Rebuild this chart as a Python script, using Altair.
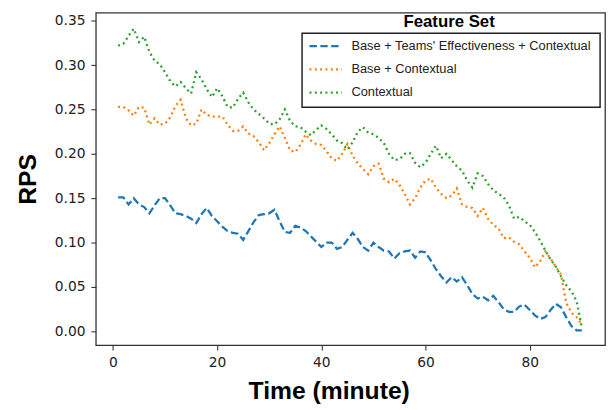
import altair as alt
import pandas as pd

minutes = list(range(1, 91))

base_teams_ctx = [
    0.151, 0.151, 0.143, 0.150, 0.143, 0.140, 0.133, 0.142, 0.150, 0.150,
    0.142, 0.133, 0.132, 0.130, 0.127, 0.122, 0.132, 0.139, 0.130, 0.124,
    0.118, 0.113, 0.111, 0.110, 0.103, 0.113, 0.123, 0.131, 0.132, 0.133,
    0.137, 0.124, 0.112, 0.111, 0.119, 0.117, 0.113, 0.107, 0.101, 0.095,
    0.100, 0.100, 0.093, 0.095, 0.103, 0.111, 0.104, 0.095, 0.091, 0.100,
    0.095, 0.091, 0.090, 0.082, 0.088, 0.090, 0.091, 0.083, 0.090, 0.089,
    0.080, 0.070, 0.062, 0.055, 0.061, 0.056, 0.061, 0.052, 0.042, 0.037,
    0.039, 0.035, 0.040, 0.033, 0.025, 0.022, 0.022, 0.028, 0.030, 0.024,
    0.018, 0.014, 0.016, 0.024, 0.031, 0.027, 0.016, 0.006, 0.001, 0.001,
]

base_ctx = [
    0.253, 0.253, 0.249, 0.243, 0.253, 0.252, 0.233, 0.240, 0.233, 0.234,
    0.241, 0.254, 0.261, 0.240, 0.232, 0.234, 0.250, 0.244, 0.242, 0.242,
    0.242, 0.233, 0.226, 0.226, 0.231, 0.223, 0.220, 0.213, 0.204, 0.212,
    0.222, 0.231, 0.218, 0.204, 0.202, 0.210, 0.222, 0.215, 0.211, 0.210,
    0.203, 0.195, 0.192, 0.200, 0.211, 0.198, 0.189, 0.183, 0.177, 0.186,
    0.189, 0.172, 0.168, 0.172, 0.165, 0.155, 0.143, 0.150, 0.162, 0.170,
    0.172, 0.162, 0.155, 0.150, 0.153, 0.161, 0.143, 0.140, 0.139, 0.130,
    0.139, 0.127, 0.120, 0.116, 0.105, 0.106, 0.101, 0.098, 0.090, 0.083,
    0.072, 0.079, 0.090, 0.082, 0.073, 0.064, 0.032, 0.021, 0.016, 0.008,
]

contextual = [
    0.322, 0.324, 0.333, 0.341, 0.326, 0.332, 0.315, 0.305, 0.301, 0.292,
    0.282, 0.276, 0.281, 0.274, 0.268, 0.292, 0.284, 0.273, 0.264, 0.274,
    0.265, 0.253, 0.252, 0.262, 0.269, 0.258, 0.250, 0.245, 0.240, 0.234,
    0.233, 0.239, 0.250, 0.237, 0.231, 0.230, 0.225, 0.221, 0.227, 0.232,
    0.228, 0.222, 0.215, 0.212, 0.205, 0.213, 0.225, 0.230, 0.224, 0.222,
    0.218, 0.212, 0.200, 0.193, 0.194, 0.200, 0.201, 0.190, 0.185, 0.190,
    0.200, 0.209, 0.195, 0.200, 0.193, 0.186, 0.181, 0.170, 0.162, 0.178,
    0.175, 0.166, 0.159, 0.155, 0.151, 0.142, 0.127, 0.129, 0.124, 0.120,
    0.112, 0.102, 0.091, 0.081, 0.073, 0.062, 0.052, 0.045, 0.034, 0.004,
]

series_names = [
    "Base + Teams' Effectiveness + Contextual",
    "Base + Contextual",
    "Contextual",
]
series_colors = ["#1f77b4", "#ff7f0e", "#2ca02c"]
series_dashes = [[7.5, 3.5], [2, 3.4], [2, 3.4]]

x_ticks = [0, 20, 40, 60, 80]
y_ticks = [0.0, 0.05, 0.10, 0.15, 0.20, 0.25, 0.30, 0.35]

rows = []
for name, vals in zip(series_names, [base_teams_ctx, base_ctx, contextual]):
    for t, v in zip(minutes, vals):
        rows.append({"Time": t, "RPS": v, "Feature Set": name})
df = pd.DataFrame(rows)

lines = alt.Chart(df).mark_line(strokeWidth=2.3).encode(
    x=alt.X(
        "Time:Q",
        scale=alt.Scale(domain=[-3.28, 94.45], nice=False, zero=False),
        axis=alt.Axis(
            values=x_ticks, title="Time (minute)", grid=False, format="d",
            titleX=236, titleAlign="center",
        ),
    ),
    y=alt.Y(
        "RPS:Q",
        scale=alt.Scale(domain=[-0.0156, 0.3592], nice=False, zero=False),
        axis=alt.Axis(values=y_ticks, title="RPS", grid=False, format=".2f"),
    ),
    color=alt.Color(
        "Feature Set:N",
        sort=series_names,
        scale=alt.Scale(domain=series_names, range=series_colors),
        legend=alt.Legend(
            orient="none", legendX=215, legendY=2,
            title="Feature Set", titleFont="Liberation Sans", titleFontSize=17,
            titleFontWeight="bold", titleColor="#000", titleAnchor="middle",
            titlePadding=6,
            labelFont="Liberation Sans", labelFontSize=13, labelColor="#222",
            labelLimit=400, clipHeight=18,
            labelOffset=8, symbolType="stroke", symbolSize=1089,
            symbolStrokeWidth=2.3, rowPadding=5.5,
        ),
    ),
    strokeDash=alt.StrokeDash(
        "Feature Set:N",
        sort=series_names,
        scale=alt.Scale(domain=series_names, range=series_dashes),
        legend=None,
    ),
)

box = alt.Chart(pd.DataFrame({"a": [0]})).mark_rect(
    fill="white", fillOpacity=0.85, stroke="#222", strokeWidth=1.5
).encode(
    x=alt.value(209), x2=alt.value(511), y=alt.value(21), y2=alt.value(96)
)

chart = alt.layer(lines, box).properties(
    width=516, height=337,
    autosize=alt.AutoSizeParams(type="none"),
    padding={"left": 89, "top": 2, "right": 2, "bottom": 60},
).configure_view(
    stroke="#333", strokeWidth=1.3
).configure_axis(
    domain=False, tickColor="#333", tickSize=5, tickWidth=1.1,
    labelFont="DejaVu Sans", labelFontSize=14, labelColor="#222",
    labelPadding=6,
    titleFont="Liberation Sans", titleFontSize=25, titleFontWeight="bold",
    titleColor="#000",
).configure_axisY(
    titlePadding=14
).configure_axisX(
    titlePadding=9
)

chart.save("out.html", embed_options={"renderer": "svg", "actions": False})
